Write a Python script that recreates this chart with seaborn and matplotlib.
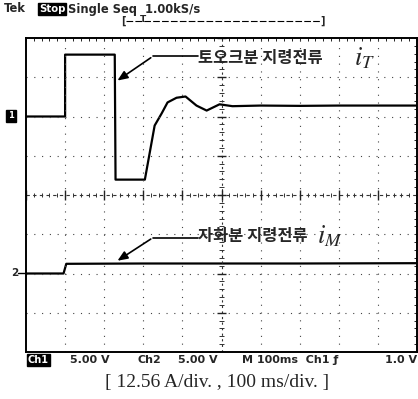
import numpy as np
import pandas as pd
import matplotlib
matplotlib.use("Agg")
import matplotlib.pyplot as plt
import seaborn as sns

# ---- data (time in ms, current in A) ----
iT_time = [0, 100, 100, 227, 229, 304, 329, 347, 362, 385, 408, 436, 462, 495, 528, 600, 700, 800, 1000]
iT_amp = [0.0, 0.0, 19.8, 19.8, -20.2, -20.2, -2.9, 1.0, 4.5, 6.0, 6.4, 3.5, 1.9, 3.9, 3.3, 3.5, 3.4, 3.5, 3.5]
iM_time = [0, 96, 103, 300, 500, 700, 1000]
iM_amp = [0.0, 0.0, 3.1, 3.2, 3.2, 3.2, 3.3]
amp_per_div = 12.56
ch1_offset = 2.0
ch2_offset = -2.0

header = "Single Seq  1.00kS/s"
status = ["5.00 V", "Ch2", "5.00 V", "M 100ms  Ch1 \u0192", "1.0 V"]
caption = "[ 12.56 A/div. , 100 ms/div. ]"
label_T = "토오크분 지령전류"
label_M = "자화분 지령전류"

W, H = 418, 399
sns.set_style("white")
plt.rcParams['font.family'] = ['DejaVu Sans']
plt.rcParams['mathtext.fontset'] = 'stix'
fig = plt.figure(figsize=(W / 100, H / 100), dpi=100)
ax = fig.add_axes([26 / W, (H - 352) / H, 391 / W, 314 / H])

df_T = pd.DataFrame({"t": iT_time, "y": [ch1_offset + a / amp_per_div for a in iT_amp]})
df_M = pd.DataFrame({"t": iM_time, "y": [ch2_offset + a / amp_per_div for a in iM_amp]})
sns.lineplot(data=df_T, x="t", y="y", ax=ax, color="black", lw=1.6, sort=False, estimator=None)
sns.lineplot(data=df_M, x="t", y="y", ax=ax, color="black", lw=1.6, sort=False, estimator=None)

ax.set_xlim(0, 1000)
ax.set_ylim(-4, 4)
ax.set_xlabel("")
ax.set_ylabel("")

# graticule
for xv in range(100, 1000, 100):
    if xv != 500:
        ax.axvline(xv, color="#444444", lw=0.8, ls=(0, (1, 6)))
for yv in range(-3, 4):
    if yv != 0:
        ax.axhline(yv, color="#444444", lw=0.8, ls=(0, (1, 6)))
ax.axvline(500, color="#333333", lw=0.8, ls=(0, (2, 3)))
ax.axhline(0, color="#333333", lw=0.8, ls=(0, (3, 3)))
minor_y = np.arange(-4, 4.01, 0.2)
minor_x = np.arange(0, 1000.1, 20)
ax.hlines(minor_y, 500 - 6, 500 + 6, color="#333333", lw=0.7)
ax.vlines(minor_x, -0.06, 0.06, color="#333333", lw=0.7)
ax.vlines(np.arange(0, 1001, 100), -0.12, 0.12, color="#222222", lw=1.0)
ax.hlines(np.arange(-4, 5, 1), 500 - 12, 500 + 12, color="#222222", lw=1.0)

ax.set_xticks(minor_x)
ax.set_yticks(minor_y)
ax.tick_params(direction="in", length=2.5, width=0.7, top=True, right=True,
               labelbottom=False, labelleft=False, color="#222222")
for s in ax.spines.values():
    s.set_color("black")
    s.set_linewidth(1.4)

def fx(x):
    return x / W

def fy(y):
    return 1 - y / H

# header
fig.text(fx(4), fy(9), "Tek", fontsize=8.3, fontweight="bold", va="center", ha="left")
fig.text(fx(39), fy(9), "Stop", fontsize=7.3, fontweight="bold", va="center", ha="left", color="white",
         bbox=dict(boxstyle="square,pad=0.1", fc="black", ec="black"))
fig.text(fx(68), fy(9), header, fontsize=8.3, fontweight="bold", va="center", ha="left")

# record bracket
fig.text(fx(121), fy(21), "[", fontsize=7, fontweight="bold", va="center", ha="left")
fig.text(fx(320), fy(21), "]", fontsize=7, fontweight="bold", va="center", ha="left")
fig.text(fx(140), fy(20), "T", fontsize=6.5, fontweight="bold", va="center", ha="left")
fig.add_artist(plt.Line2D([fx(126), fx(320)], [fy(21), fy(21)], color="black", lw=0.8, ls=(0, (6, 2))))

# channel markers
fig.text(fx(8), fy(116), "1", fontsize=6, fontweight="bold", va="center", ha="left", color="white",
         bbox=dict(boxstyle="square,pad=0.2", fc="black", ec="black"))
fig.text(fx(11), fy(273), "2", fontsize=7.5, fontweight="bold", va="center", ha="left")
fig.add_artist(plt.Line2D([fx(18), fx(26)], [fy(273), fy(273)], color="black", lw=1))

# annotations
kr = ['Noto Sans CJK KR', 'DejaVu Sans']
yT = ch1_offset + 19.3 / amp_per_div
ax.annotate("", xy=(228, ch1_offset + 11.0 / amp_per_div), xytext=(325, yT),
            arrowprops=dict(arrowstyle="-|>,head_length=0.6,head_width=0.25", color="black", lw=1.2))
ax.plot([325, 440], [yT, yT], color="black", lw=1.2)
ax.text(441, yT - 0.05, label_T, family=kr, fontsize=11.8, fontweight="bold",
        va="center", ha="left")
ax.text(840, yT - 0.05, "$i_T$", fontsize=19, va="center", ha="left")

yM = ch2_offset + 11.5 / amp_per_div
ax.annotate("", xy=(228, ch2_offset + 3.6 / amp_per_div), xytext=(325, yM),
            arrowprops=dict(arrowstyle="-|>,head_length=0.6,head_width=0.25", color="black", lw=1.2))
ax.plot([325, 440], [yM, yM], color="black", lw=1.2)
ax.text(441, yM + 0.03, label_M, family=kr, fontsize=11.8, fontweight="bold",
        va="center", ha="left")
ax.text(745, yM + 0.03, "$i_M$", fontsize=19, va="center", ha="left")

# status line
fig.text(fx(28), fy(360), "Ch1", fontsize=7, fontweight="bold", va="center", ha="left", color="white",
         bbox=dict(boxstyle="square,pad=0.1", fc="black", ec="black"))
status_x = [70, 137, 178, 242, 385]
for sx, st in zip(status_x, status):
    fig.text(fx(sx), fy(360), st, fontsize=8, fontweight="bold", va="center", ha="left")

fig.text(fx(217), fy(383), caption, fontsize=14, family="Liberation Serif", va="center", ha="center")

fig.savefig("out.png", dpi=100, facecolor="white")
